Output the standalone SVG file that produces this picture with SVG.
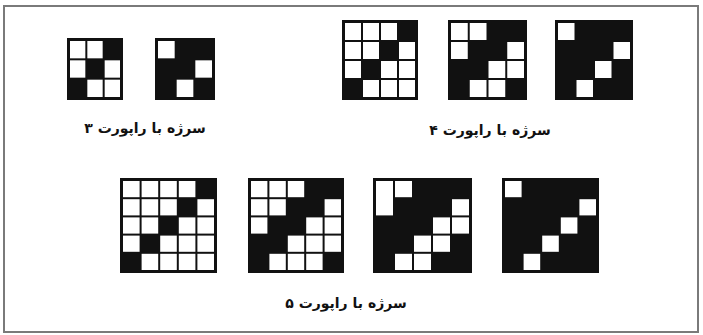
<svg xmlns="http://www.w3.org/2000/svg" width="703" height="335" viewBox="0 0 703 335">
<style>
.frame{fill:#fff;stroke:#7a7a7a;stroke-width:2}
.b{fill:#111}
.w{fill:#fff}
.lbl{font-family:"DejaVu Sans",sans-serif;font-weight:bold;font-size:14px;fill:#111;text-anchor:middle;direction:rtl}
</style>
<rect class="frame" x="4" y="6" width="694" height="326"/>

<g id="grid-3a">
<rect class="b" x="67" y="38" width="56" height="62"/>
<rect class="w" x="70" y="41" width="15.33" height="17.33"/>
<rect class="w" x="87.33" y="41" width="15.33" height="17.33"/>
<rect class="w" x="70" y="60.33" width="15.33" height="17.33"/>
<rect class="w" x="104.67" y="60.33" width="15.33" height="17.33"/>
<rect class="w" x="87.33" y="79.67" width="15.33" height="17.33"/>
<rect class="w" x="104.67" y="79.67" width="15.33" height="17.33"/>
</g>
<g id="grid-3b">
<rect class="b" x="155" y="38" width="60" height="62"/>
<rect class="w" x="158" y="41" width="16.67" height="17.33"/>
<rect class="w" x="195.33" y="60.33" width="16.67" height="17.33"/>
<rect class="w" x="176.67" y="79.67" width="16.67" height="17.33"/>
</g>
<g id="label-3"><text class="lbl" x="145" y="133">سرژه با راپورت ۳</text></g>

<g id="grid-4a">
<rect class="b" x="342" y="20" width="76" height="80"/>
<rect class="w" x="345" y="23" width="16" height="17"/>
<rect class="w" x="363" y="23" width="16" height="17"/>
<rect class="w" x="381" y="23" width="16" height="17"/>
<rect class="w" x="345" y="42" width="16" height="17"/>
<rect class="w" x="363" y="42" width="16" height="17"/>
<rect class="w" x="399" y="42" width="16" height="17"/>
<rect class="w" x="345" y="61" width="16" height="17"/>
<rect class="w" x="381" y="61" width="16" height="17"/>
<rect class="w" x="399" y="61" width="16" height="17"/>
<rect class="w" x="363" y="80" width="16" height="17"/>
<rect class="w" x="381" y="80" width="16" height="17"/>
<rect class="w" x="399" y="80" width="16" height="17"/>
</g>
<g id="grid-4b">
<rect class="b" x="448" y="20" width="79" height="80"/>
<rect class="w" x="451" y="23" width="16.75" height="17"/>
<rect class="w" x="469.75" y="23" width="16.75" height="17"/>
<rect class="w" x="451" y="42" width="16.75" height="17"/>
<rect class="w" x="507.25" y="42" width="16.75" height="17"/>
<rect class="w" x="488.5" y="61" width="16.75" height="17"/>
<rect class="w" x="507.25" y="61" width="16.75" height="17"/>
<rect class="w" x="469.75" y="80" width="16.75" height="17"/>
<rect class="w" x="488.5" y="80" width="16.75" height="17"/>
</g>
<g id="grid-4c">
<rect class="b" x="555" y="20" width="78" height="80"/>
<rect class="w" x="558" y="23" width="16.5" height="17"/>
<rect class="w" x="613.5" y="42" width="16.5" height="17"/>
<rect class="w" x="595" y="61" width="16.5" height="17"/>
<rect class="w" x="576.5" y="80" width="16.5" height="17"/>
</g>
<g id="label-4"><text class="lbl" x="490" y="135">سرژه با راپورت ۴</text></g>

<g id="grid-5a">
<rect class="b" x="120" y="178" width="97" height="95"/>
<rect class="w" x="123" y="181" width="16.6" height="16.2"/>
<rect class="w" x="141.6" y="181" width="16.6" height="16.2"/>
<rect class="w" x="160.2" y="181" width="16.6" height="16.2"/>
<rect class="w" x="178.8" y="181" width="16.6" height="16.2"/>
<rect class="w" x="123" y="199.2" width="16.6" height="16.2"/>
<rect class="w" x="141.6" y="199.2" width="16.6" height="16.2"/>
<rect class="w" x="160.2" y="199.2" width="16.6" height="16.2"/>
<rect class="w" x="197.4" y="199.2" width="16.6" height="16.2"/>
<rect class="w" x="123" y="217.4" width="16.6" height="16.2"/>
<rect class="w" x="141.6" y="217.4" width="16.6" height="16.2"/>
<rect class="w" x="178.8" y="217.4" width="16.6" height="16.2"/>
<rect class="w" x="197.4" y="217.4" width="16.6" height="16.2"/>
<rect class="w" x="123" y="235.6" width="16.6" height="16.2"/>
<rect class="w" x="160.2" y="235.6" width="16.6" height="16.2"/>
<rect class="w" x="178.8" y="235.6" width="16.6" height="16.2"/>
<rect class="w" x="197.4" y="235.6" width="16.6" height="16.2"/>
<rect class="w" x="141.6" y="253.8" width="16.6" height="16.2"/>
<rect class="w" x="160.2" y="253.8" width="16.6" height="16.2"/>
<rect class="w" x="178.8" y="253.8" width="16.6" height="16.2"/>
<rect class="w" x="197.4" y="253.8" width="16.6" height="16.2"/>
</g>
<g id="grid-5b">
<rect class="b" x="248" y="178" width="96" height="95"/>
<rect class="w" x="251" y="181" width="16.4" height="16.2"/>
<rect class="w" x="269.4" y="181" width="16.4" height="16.2"/>
<rect class="w" x="287.8" y="181" width="16.4" height="16.2"/>
<rect class="w" x="251" y="199.2" width="16.4" height="16.2"/>
<rect class="w" x="269.4" y="199.2" width="16.4" height="16.2"/>
<rect class="w" x="324.6" y="199.2" width="16.4" height="16.2"/>
<rect class="w" x="251" y="217.4" width="16.4" height="16.2"/>
<rect class="w" x="306.2" y="217.4" width="16.4" height="16.2"/>
<rect class="w" x="324.6" y="217.4" width="16.4" height="16.2"/>
<rect class="w" x="287.8" y="235.6" width="16.4" height="16.2"/>
<rect class="w" x="306.2" y="235.6" width="16.4" height="16.2"/>
<rect class="w" x="324.6" y="235.6" width="16.4" height="16.2"/>
<rect class="w" x="269.4" y="253.8" width="16.4" height="16.2"/>
<rect class="w" x="287.8" y="253.8" width="16.4" height="16.2"/>
<rect class="w" x="306.2" y="253.8" width="16.4" height="16.2"/>
</g>
<g id="grid-5c">
<rect class="b" x="373" y="178" width="99" height="95"/>
<rect class="w" x="376" y="181" width="17" height="34.4"/>
<rect class="w" x="395" y="181" width="17" height="16.2"/>
<rect class="w" x="452" y="199.2" width="17" height="16.2"/>
<rect class="w" x="433" y="217.4" width="17" height="16.2"/>
<rect class="w" x="452" y="217.4" width="17" height="16.2"/>
<rect class="w" x="414" y="235.6" width="17" height="16.2"/>
<rect class="w" x="433" y="235.6" width="17" height="16.2"/>
<rect class="w" x="395" y="253.8" width="17" height="16.2"/>
<rect class="w" x="414" y="253.8" width="17" height="16.2"/>
</g>
<g id="grid-5d">
<rect class="b" x="502" y="178" width="97" height="95"/>
<rect class="w" x="505" y="181" width="16.6" height="16.2"/>
<rect class="w" x="579.4" y="199.2" width="16.6" height="16.2"/>
<rect class="w" x="560.8" y="217.4" width="16.6" height="16.2"/>
<rect class="w" x="542.2" y="235.6" width="16.6" height="16.2"/>
<rect class="w" x="523.6" y="253.8" width="16.6" height="16.2"/>
</g>
<g id="label-5"><text class="lbl" x="346" y="308">سرژه با راپورت ۵</text></g>
<g id="connectors"/>
</svg>
